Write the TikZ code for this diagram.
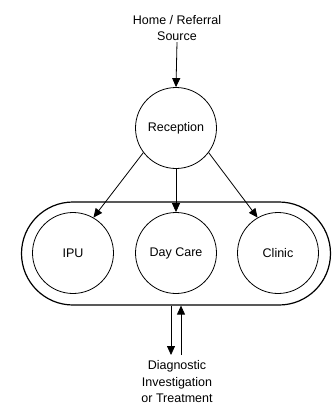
\documentclass[tikz,border=0pt]{standalone}
\usepackage{fontspec}
\setmainfont{Liberation Sans}
\usetikzlibrary{arrows.meta,shapes.misc}
\begin{document}
\begin{tikzpicture}[x=1pt,y=-1pt,
  font=\fontsize{12.5}{16.5}\selectfont,
  unit/.style={circle,draw,line width=0.8pt,minimum size=81pt,inner sep=0pt},
  lbl/.style={align=center,inner sep=1pt},
  arr/.style={line width=0.8pt,-{Triangle[length=9pt,width=8pt]}}]
\useasboundingbox (0,0) rectangle (333,408);
\node[lbl] (home) at (177,28) {Home / Referral\\Source};
\node[unit] (rec) at (176,128) {Reception};
\node[rounded rectangle,draw,line width=1.2pt,minimum width=309pt,minimum height=103pt,inner sep=0pt] (pill) at (176,253.5) {};
\node[unit] (ipu) at (73,253) {IPU};
\node[unit] (dc) at (176,253) {Day Care};
\node[unit] (cl) at (278,253) {Clinic};
\node[lbl] (diag) at (177,382) {Diagnostic\\Investigation\\or Treatment};
\draw[arr] (home.south) -- (rec.north);
\draw[arr] (rec.217) -- (ipu.60);
\draw[arr] (rec.south) -- (dc.north);
\draw[arr] (rec.323) -- (cl.120);
\coordinate (dn) at (171,355);
\coordinate (up) at (181,355);
\draw[arr] ([xshift=-5pt]pill.south) -- (dn);
\draw[arr] (up) -- ([xshift=5pt]pill.south);
\end{tikzpicture}
\end{document}
